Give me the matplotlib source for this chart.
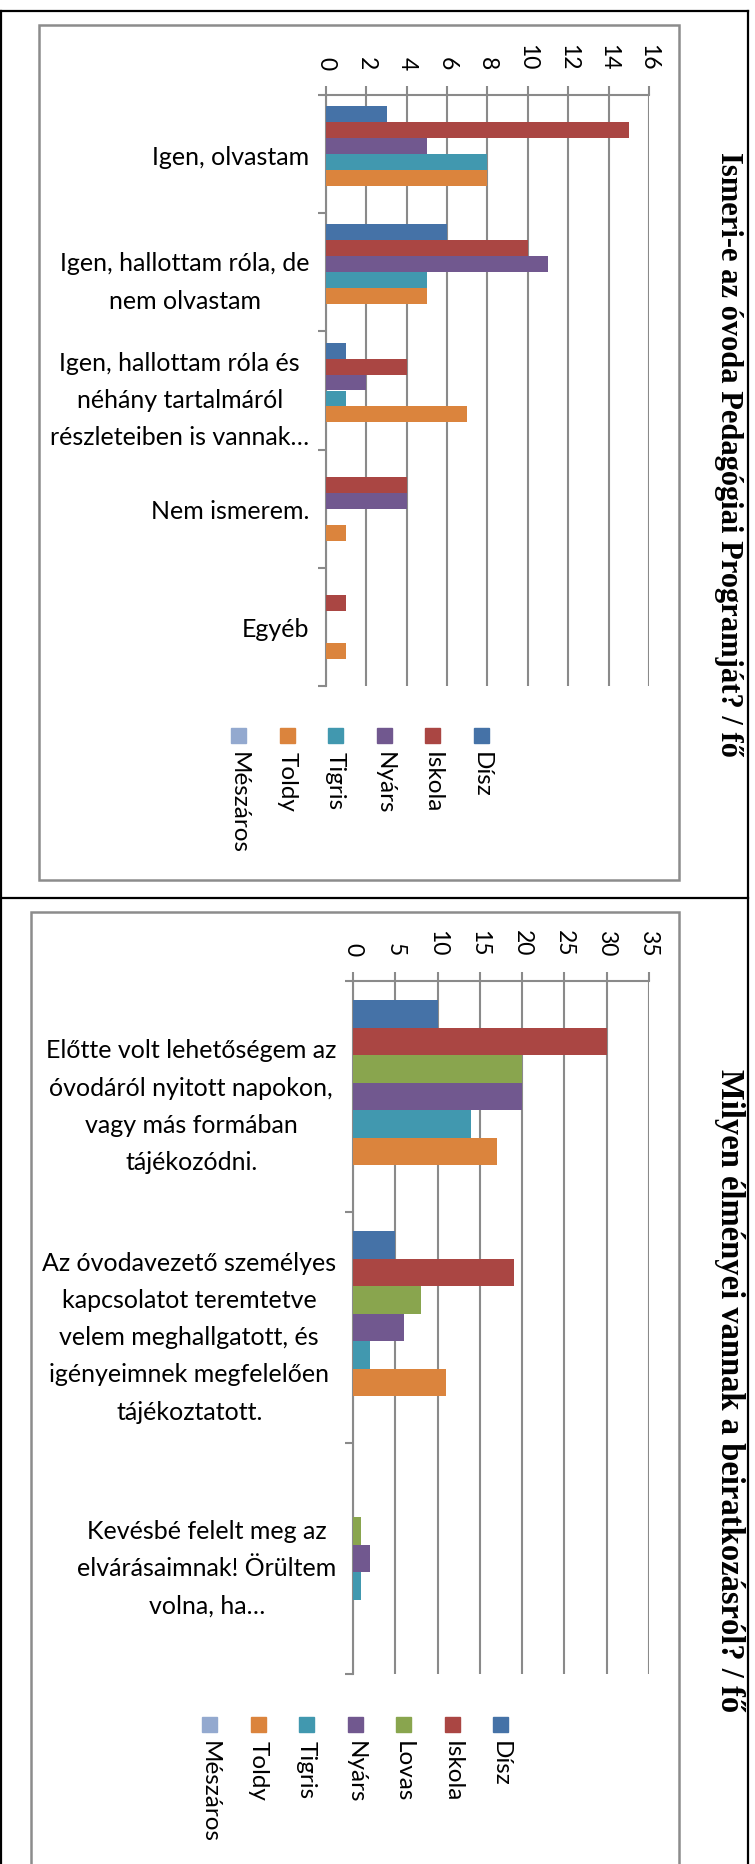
import matplotlib
matplotlib.use("Agg")
import matplotlib.pyplot as plt
from matplotlib.patches import Rectangle
from matplotlib.lines import Line2D
import numpy as np

# ---- data: first chart ----
q1_title = "Ismeri-e az óvoda Pedagógiai Programját? / fő"
q1_categories = ["Igen, olvastam",
                 "Igen, hallottam róla, de\nnem olvastam",
                 "Igen, hallottam róla és\nnéhány tartalmáról\nrészleteiben is vannak…",
                 "Nem ismerem.",
                 "Egyéb"]
q1_series = ["Dísz", "Iskola", "Nyárs", "Tigris", "Toldy", "Mészáros"]
q1_disz = [3, 6, 1, 0, 0]
q1_iskola = [15, 10, 4, 4, 1]
q1_nyars = [5, 11, 2, 4, 0]
q1_tigris = [8, 5, 1, 0, 0]
q1_toldy = [8, 5, 7, 1, 1]
q1_meszaros = [0, 0, 0, 0, 0]
q1_ticks = [0, 2, 4, 6, 8, 10, 12, 14, 16]

# ---- data: second chart ----
q2_title = "Milyen élményei vannak a beiratkozásról? / fő"
q2_categories = ["Előtte volt lehetőségem az\nóvodáról nyitott napokon,\nvagy más formában\ntájékozódni.",
                 "Az óvodavezető személyes\nkapcsolatot teremtetve\nvelem meghallgatott, és\nigényeimnek megfelelően\ntájékoztatott.",
                 "Kevésbé felelt meg az\nelvárásaimnak! Örültem\nvolna, ha…"]
q2_series = ["Dísz", "Iskola", "Lovas", "Nyárs", "Tigris", "Toldy", "Mészáros"]
q2_disz = [10, 5, 0]
q2_iskola = [30, 19, 0]
q2_lovas = [20, 8, 1]
q2_nyars = [20, 6, 2]
q2_tigris = [14, 2, 1]
q2_toldy = [17, 11, 0]
q2_meszaros = [0, 0, 0]
q2_ticks = [0, 5, 10, 15, 20, 25, 30, 35]

colors = {"Dísz": "#4572A7", "Iskola": "#AA4643", "Lovas": "#89A54E",
          "Nyárs": "#71588F", "Tigris": "#4198AF", "Toldy": "#DB843D",
          "Mészáros": "#93A9CF"}

W, H = 755, 1865
GRID = "#8a8a8a"
FONT = "Lato"

fig = plt.figure(figsize=(W / 100, H / 100), dpi=100)


def fx(px):
    return px / W


def fy(py):
    return 1 - py / H


def draw_chart(rect, cats, names, values, ticks, gap=1.4):
    # rect in pixels: left, top, right, bottom
    l, t, r, b = rect
    ax = fig.add_axes([fx(l), fy(b), fx(r - l), (b - t) / H])
    n = len(names)
    bh = 1.0 / (n + gap)
    idx = np.arange(len(cats))
    for i, (name, vals) in enumerate(zip(names, values)):
        ypos = idx - n * bh / 2 + (i + 0.5) * bh
        ax.barh(ypos, vals, height=bh, color=colors[name], zorder=3)
    ax.set_ylim(len(cats) - 0.5, -0.5)
    ax.set_xlim(ticks[0], ticks[-1])

    ax.xaxis.tick_top()
    ax.set_xticks(ticks)
    ax.set_xticklabels([str(v) for v in ticks], rotation=270, fontsize=16.5,
                       family=FONT, va="bottom", ha="center")
    ax.tick_params(axis="x", which="major", direction="out", length=6.5,
                   width=1.5, color=GRID, pad=12)
    ax.grid(axis="x", color=GRID, lw=1.5, zorder=0)

    ax.set_yticks(idx)
    ax.set_yticklabels(cats, fontsize=18, family=FONT, ha="right",
                       multialignment="center", linespacing=1.75)
    ax.set_yticks(np.arange(len(cats) + 1) - 0.5, minor=True)
    ax.tick_params(axis="y", which="major", length=0, pad=12)
    ax.tick_params(axis="y", which="minor", direction="out", length=6,
                   width=1.5, color=GRID)

    for s in ["right", "bottom"]:
        ax.spines[s].set_visible(False)
    for s in ["left", "top"]:
        ax.spines[s].set_color(GRID)
        ax.spines[s].set_linewidth(1.5)
    return ax


def draw_legend(names, x_first, step, sq_top):
    for k, name in enumerate(names):
        cx = x_first - k * step
        fig.add_artist(Rectangle((fx(cx - 7.5), fy(sq_top + 15)), 15 / W, 15 / H,
                                 transform=fig.transFigure, color=colors[name]))
        fig.text(fx(cx), fy(sq_top + 23), name, rotation=270, ha="center",
                 va="top", fontsize=17.5, family=FONT)


# frames
def box(l, t, r, b, color, lw):
    fig.add_artist(Rectangle((fx(l), fy(b)), (r - l) / W, (b - t) / H,
                             transform=fig.transFigure, fill=False,
                             edgecolor=color, lw=lw))


box(39, 26, 679, 881, "#8c8c8c", 1.8)
box(31, 913, 679, 1875, "#8c8c8c", 1.8)
for xs, ys in [((0, 748), (12, 12)), ((748, 748), (12, 1865)),
               ((0, 748), (899, 899)), ((1, 1), (12, 1865))]:
    fig.add_artist(Line2D([fx(xs[0]), fx(xs[1])], [fy(ys[0]), fy(ys[1])],
                          transform=fig.transFigure, color="black", lw=1.6))

draw_chart((326, 96, 649, 687), q1_categories, q1_series,
           [q1_disz, q1_iskola, q1_nyars, q1_tigris, q1_toldy, q1_meszaros],
           q1_ticks)
draw_chart((353, 982, 649, 1675), q2_categories, q2_series,
           [q2_disz, q2_iskola, q2_lovas, q2_nyars, q2_tigris, q2_toldy, q2_meszaros],
           q2_ticks)

draw_legend(q1_series, 481, 48.5, 729)
draw_legend(q2_series, 500.5, 48.5, 1718)

fig.text(fx(729), fy(455), q1_title, rotation=270, ha="center", va="center",
         fontsize=22, family="Liberation Serif", fontweight="bold")
fig.text(fx(729), fy(1391), q2_title, rotation=270, ha="center", va="center",
         fontsize=23.5, family="Liberation Serif", fontweight="bold")

fig.savefig("out.png", dpi=100)
